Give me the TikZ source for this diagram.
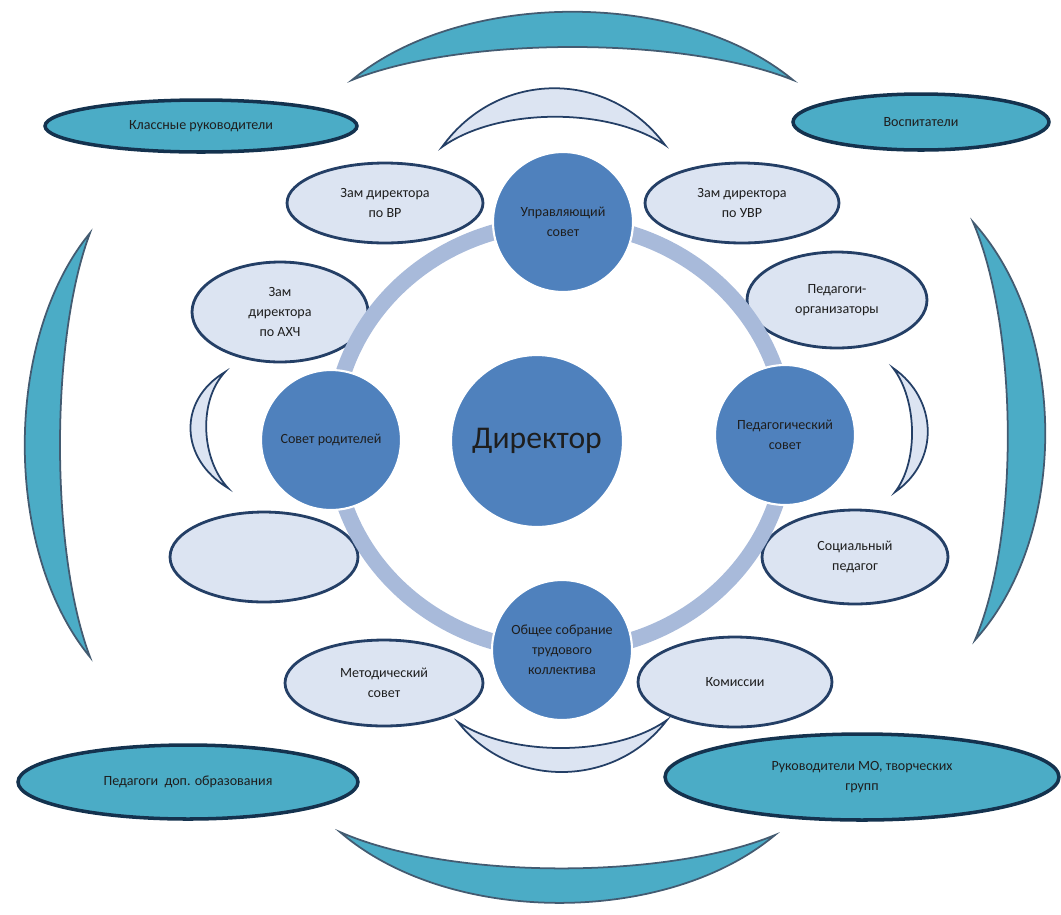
\documentclass[tikz,border=0pt]{standalone}
\usepackage{fontspec}
\setmainfont{Carlito}
\usetikzlibrary{shapes.geometric}

\definecolor{tealfill}{HTML}{4BACC6}
\definecolor{darkline}{HTML}{14324E}
\definecolor{lightfill}{HTML}{DCE4F2}
\definecolor{navyline}{HTML}{243F66}
\definecolor{circfill}{HTML}{4F81BD}
\definecolor{ringcol}{HTML}{A8BADA}
\definecolor{textcol}{HTML}{1E1E1E}

\newcommand\smalltxt{\fontsize{8}{11.5}\selectfont}

\tikzset{
    lightell/.style={ellipse, draw=navyline, line width=1.6pt, fill=lightfill,
        inner sep=0pt, align=center, font=\smalltxt, text=textcol},
    darkell/.style={ellipse, draw=darkline, line width=2pt, fill=tealfill,
        inner sep=0pt, align=center, font=\smalltxt, text=textcol},
    circ/.style={circle, draw=white, line width=1.2pt, fill=circfill,
        inner sep=0pt, minimum size=2.8cm, align=center, font=\smalltxt, text=textcol},
    darkcres/.style={draw=darkline!80, line width=1pt, fill=tealfill},
    lightcres/.style={draw=navyline, line width=1pt, fill=lightfill}
}

\begin{document}
\begin{tikzpicture}[x={(0.02cm,0)}, y={(0,-0.02cm)}]
    \useasboundingbox (0,0) rectangle (1061,914);
    % outer crescents
    \draw[darkcres] (352,80) .. controls (462,-11) and (683,-11) .. (793,80)
        .. controls (683,36) and (462,36) .. cycle;
    \draw[darkcres] (340,832) .. controls (449,926) and (666,926) .. (775,835)
        .. controls (666,880) and (449,880) .. cycle;
    \draw[darkcres] (90,233) .. controls (3,339) and (3,551) .. (90,657)
        .. controls (50,551) and (50,339) .. cycle;
    \draw[darkcres] (973,222) .. controls (1068,327) and (1070,535) .. (975,640)
        .. controls (1020,535) and (1018,327) .. cycle;
    % inner crescents
    \draw[lightcres] (442,147) .. controls (498,69) and (609,69) .. (665,145)
        .. controls (609,107) and (498,107) .. cycle;
    \draw[lightcres] (458,722) .. controls (510,789) and (615,789) .. (667,720)
        .. controls (615,757) and (510,757) .. cycle;
    \draw[lightcres] (225,372) .. controls (177,401) and (180,459) .. (228,488)
        .. controls (201,459) and (198,401) .. cycle;
    \draw[lightcres] (893,368) .. controls (938,399) and (940,461) .. (895,492)
        .. controls (919,461) and (917,399) .. cycle;
    % outer ellipses
    \node[darkell, minimum width=6.24cm, minimum height=1.04cm] (klass) at (201,126) {Классные руководители};
    \node[darkell, minimum width=5.12cm, minimum height=1.12cm] (vosp) at (921,122) {Воспитатели};
    \node[darkell, minimum width=6.8cm, minimum height=1.48cm] (peddop) at (188,782) {Педагоги\ \ доп. образования};
    \node[darkell, minimum width=7.88cm, minimum height=1.72cm] (rukmo) at (862,777) {Руководители МО, творческих\\групп};
    % inner ellipses
    \node[lightell, minimum width=3.92cm, minimum height=1.6cm] (zamvr) at (385,203) {Зам директора\\по ВР};
    \node[lightell, minimum width=3.88cm, minimum height=1.6cm] (zamuvr) at (742,203) {Зам директора\\по УВР};
    \node[lightell, minimum width=3.52cm, minimum height=2cm] (zamahch) at (280,312) {Зам\\директора\\по АХЧ};
    \node[lightell, minimum width=3.6cm, minimum height=1.92cm] (pedorg) at (837,300) {Педагоги-\\организаторы};
    \node[lightell, minimum width=3.76cm, minimum height=1.8cm] (pustoy) at (264,557) {};
    \node[lightell, minimum width=3.72cm, minimum height=1.88cm] (socped) at (855,557) {Социальный\\педагог};
    \node[lightell, minimum width=3.96cm, minimum height=1.72cm] (metod) at (384,683) {Методический\\совет};
    \node[lightell, minimum width=3.88cm, minimum height=1.8cm] (komis) at (735,682) {Комиссии};
    % ring and circles
    \coordinate (mid) at (560,437);
    \draw[ringcol, line width=0.32cm] (mid) ellipse [x radius=4.54cm, y radius=4.28cm];
    \node[circ, minimum size=3.44cm, font=\fontsize{18}{22}\selectfont] (direktor) at (537,441) {Директор};
    \node[circ] (upr) at (563,222) {Управляющий\\совет};
    \node[circ] (roditeli) at (331,440) {Совет родителей};
    \node[circ] (pedsovet) at (785,435) {Педагогический\\совет};
    \node[circ] (sobranie) at (562,650) {Общее собрание\\трудового\\коллектива};
\end{tikzpicture}
\end{document}
